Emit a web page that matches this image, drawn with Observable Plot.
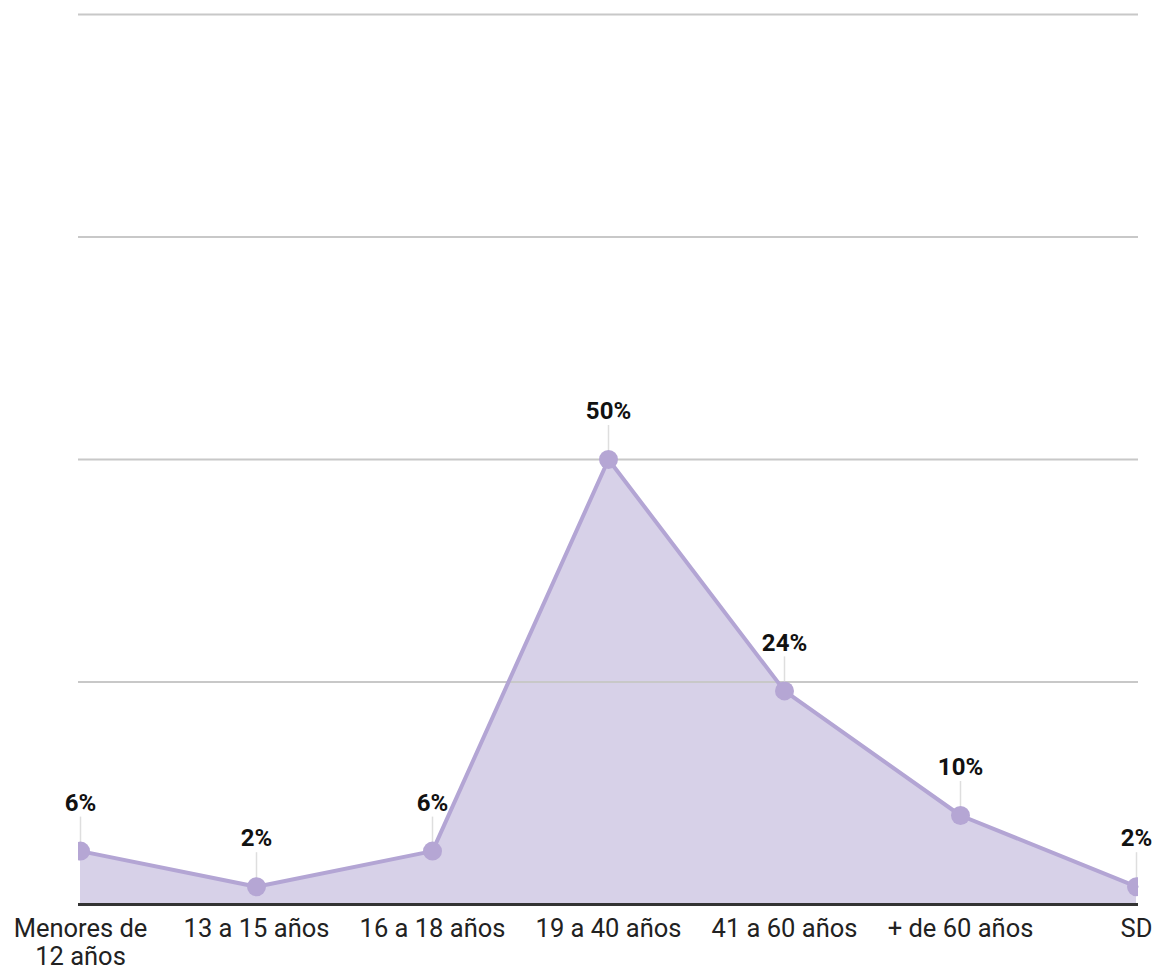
<!DOCTYPE html>
<html>
<head>
<meta charset="utf-8">
<script src="https://cdn.jsdelivr.net/npm/d3@7"></script>
<script src="https://cdn.jsdelivr.net/npm/@observablehq/plot@0.6"></script>
<style>
  html, body { margin: 0; padding: 0; background: #fff; }
  #chart svg { display: block; font-family: Roboto, "Noto Sans", sans-serif; }
</style>
</head>
<body>
<div id="chart"></div>
<script>
const categories = ["Menores de\n12 años", "13 a 15 años", "16 a 18 años", "19 a 40 años", "41 a 60 años", "+ de 60 años", "SD"];
const values = [6, 2, 6, 50, 24, 10, 2];
const gridTicks = [25, 50, 75, 100];

const data = categories.map((c, i) => ({category: c, value: values[i]}));

const chart = Plot.plot({
  width: 1158,
  height: 966,
  marginLeft: 78,
  marginRight: 20,
  marginTop: 14,
  marginBottom: 62,
  style: {fontFamily: "Roboto, 'Noto Sans', sans-serif", background: "#fff", overflow: "visible"},
  x: {type: "point", domain: categories, padding: 0, label: null},
  y: {domain: [0, 100], axis: null},
  marks: [
    Plot.areaY(data, {x: "category", y: "value", fill: "#d7d1e8"}),
    Plot.ruleY(gridTicks, {stroke: "#c8c8c8", strokeWidth: 2}),
    Plot.ruleX(data, {x: "category", y1: "value", y2: "value", insetBottom: 34, stroke: "#dedede", strokeWidth: 1.5}),
    Plot.lineY(data, {x: "category", y: "value", stroke: "#b3a5d4", strokeWidth: 4}),
    Plot.dot(data, {x: "category", y: "value", r: 9.5, fill: "#b5a6d4", clip: true}),
    Plot.ruleY([0], {stroke: "#333", strokeWidth: 3}),
    Plot.text(data, {x: "category", y: "value", text: d => d.value + "%", dy: -48, fontSize: 24, fontWeight: "bold", fill: "#111"}),
    Plot.axisX({tickSize: 0, tickPadding: 13, fontSize: 25.5, color: "#222", lineHeight: 1.08, label: null})
  ]
});
document.getElementById("chart").appendChild(chart);
</script>
</body>
</html>
